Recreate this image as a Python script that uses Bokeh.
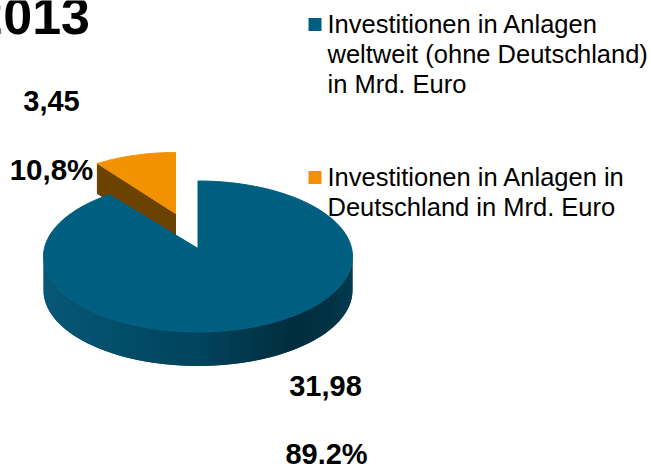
import numpy as np
from bokeh.plotting import figure
from bokeh.models import Range1d
from bokeh.core.properties import value
from bokeh.embed import file_html
from bokeh.resources import INLINE

# data
title = "2013"
categories = ["Investitionen in Anlagen weltweit (ohne Deutschland) in Mrd. Euro",
              "Investitionen in Anlagen in Deutschland in Mrd. Euro"]
legend_lines = [["Investitionen in Anlagen", "weltweit (ohne Deutschland)", "in Mrd. Euro"],
                ["Investitionen in Anlagen in", "Deutschland in Mrd. Euro"]]
values = [31.98, 3.45]
value_labels = ["31,98", "3,45"]
percent_labels = ["89.2%", "10,8%"]
colors = ["#005f80", "#f39200"]

W, H = 651, 466
p = figure(width=W, height=H, output_backend="svg", toolbar_location=None,
           x_range=Range1d(0, W), y_range=Range1d(H, 0), min_border=0)
p.axis.visible = False
p.grid.visible = False
p.outline_line_color = None
p.background_fill_color = "#ffffff"
p.border_fill_color = "#ffffff"

frac = values[1] / sum(values)
a = 2 * np.pi * frac  # angular width of small slice, ending at 12 o'clock


def ell(cx, cy, rx, ry, t):
    return cx + rx * np.sin(t), cy - ry * np.cos(t)


# --- small slice (exploded)
ox, oy, orx, ory, od = 175, 213, 136, 61, 30
tx, ty = ell(ox, oy, orx, ory, -a)
p.patch([tx, ox, ox, tx], [ty, oy, oy + od, ty + od], fill_color="#6b4200", line_color="#6b4200", line_width=1)
t = np.linspace(-a, 0, 40)
xs, ys = ell(ox, oy, orx, ory, t)
p.patch(list(xs) + [ox], list(ys) + [oy], fill_color=colors[1], line_color=colors[1], line_width=1)

# --- large slice: side wall, dark toward lower right
cx, cy, rx, ry, depth = 197.5, 256, 154.5, 75.5, 34
stops_x = [0.0, 0.25, 0.5, 0.8, 0.93, 1.0]
stops = np.array([[8, 88, 120], [3, 78, 106], [1, 68, 94], [1, 46, 62], [2, 50, 68], [4, 60, 80]], float)
N = 90
tt = np.linspace(np.pi / 2, 3 * np.pi / 2, N + 1)
sx, sy = ell(cx, cy, rx, ry, tt)
for i in range(N - 1, -1, -1):
    f = (0.5 * (sx[i] + sx[i + 1]) - (cx - rx)) / (2 * rx)
    col = [int(np.interp(f, stops_x, stops[:, k])) for k in range(3)]
    hexc = "#%02x%02x%02x" % tuple(col)
    j = max(i - 1, 0)
    p.patch([sx[j], sx[i + 1], sx[i + 1], sx[j]],
            [sy[j], sy[i + 1], sy[i + 1] + depth, sy[j] + depth],
            fill_color=hexc, line_color=None)

t = np.linspace(0, 2 * np.pi - a, 240)
xs, ys = ell(cx, cy, rx, ry, t)
apex_x, apex_y = cx, cy - 8
p.patch(list(xs) + [apex_x], list(ys) + [apex_y], fill_color=colors[0], line_color=colors[0], line_width=1)

# --- texts
bold = dict(text_font=value("Liberation Sans"), text_font_style="bold", text_color="#000000", text_baseline="alphabetic")
p.text([89.5], [15.5], text=[title], text_align="right", text_font_size="52px", **bold)
p.text([51], [100], text=[value_labels[1]], text_align="center", text_font_size="29px", **bold)
p.text([51], [168.5], text=[percent_labels[1]], text_align="center", text_font_size="29.5px", **bold)
p.text([325], [385.5], text=[value_labels[0]], text_align="center", text_font_size="29px", **bold)
p.text([326], [453.5], text=[percent_labels[0]], text_align="center", text_font_size="29px", **bold)

# --- legend
tops = [23, 176]
marker_y = [24, 177]
for lines, top, my, c in zip(legend_lines, tops, marker_y, colors):
    p.scatter([314.5], [my], marker="square", size=13, fill_color=c, line_color=None)
    ly = [top + 30 * i for i in range(len(lines))]
    p.text([327] * len(lines), ly, text=lines, text_font=value("Liberation Sans"), text_font_size="25.5px",
           text_color="#000000", text_baseline="alphabetic", text_align="left")

open("out.html", "w").write(file_html(p, INLINE))
